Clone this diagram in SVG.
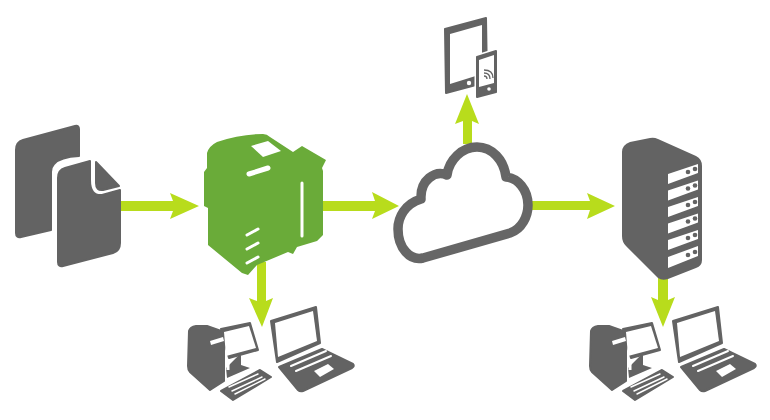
<svg xmlns="http://www.w3.org/2000/svg" xmlns:xlink="http://www.w3.org/1999/xlink" width="770" height="420" viewBox="0 0 770 420">
<style>
.g{fill:#636363;stroke:#636363;stroke-width:2;stroke-linejoin:round}
.w{fill:#fff}
.wl{fill:none;stroke:#fff;stroke-linecap:round}
.a{fill:#b8dc1c}
.d{fill:#636363}
</style>
<defs>
<g id="pc">
<path class="g" d="M189 331Q190 327 196 326L207 326L224 332L224 381L210 390L190 372Q188 370 188 366Z"/>
<path class="g" d="M221 329L250 323L258 350L229 358Z"/>
<path class="w" d="M224 332L249 326L256 348L226 356Z"/>
<path class="d" d="M238 356L241 355L241 365L250 368L227 378L226 368Z"/>
<path class="w" d="M210 341L223 337L224 341L211 345Z"/>
<rect class="w" x="226.500" y="362" width="3" height="8"/>
<path class="g" d="M221 391L260 370L271 377L233 400Z"/>
<path class="wl" stroke-width="1.500" d="M229 387L258 374M232 391L262 377M235 394L265 379"/>
</g>
<g id="laptop">
<path class="g" d="M271 321L316 307L320 343L277 362Z"/>
<path class="w" d="M275 323L313 311L317 341L278 357Z"/>
<path class="g" d="M279 367L322 349L353 364Q355 366 352 368L303 391Q300 392 298 390Z"/>
<path class="wl" stroke-width="2" d="M291 366L326 351M296 371L331 356"/>
<path class="w" d="M314 371L328 364L334 369L320 377Z"/>
</g>
</defs>
<rect width="770" height="420" fill="#fff"/>
<g id="connectors">
<path class="a" d="M120 201H173L170 193L199 206L170 219L173 211H120Z"/>
<path class="a" d="M323 201H375L372 192L399 206L372 219L375 211H323Z"/>
<path class="a" d="M463 144V121L455 124L467 94L479 124L472 121V144Z"/>
<path class="a" d="M532 201H590L587 193L615 206L587 219L590 210H532Z"/>
<path class="a" d="M257 262V301L249 298L262 327L273 298L266 301V262Z"/>
<path class="a" d="M658 278V300L651 297L663 327L675 297L668 300V278Z"/>
</g>
<g id="documents">
<path class="g" d="M16 150Q16 142 23 140L75 126Q79 125 79 129V156Q60 157 54 164Q51 167 51 172V230L21 237Q16 238 16 233Z"/>
<path class="g" d="M58 178Q58 170 65 168L90 161V180Q90 196 102 195L120 190V243Q120 251 113 253L63 266Q58 267 58 262Z"/>
<path class="g" d="M96 162L119 186L103 190Q96 191 96 183Z"/>
</g>
<g id="printer">
<path fill="#6aab39" d="M207 153Q209 146 217 142Q240 134 263 134Q267 134 270 137L293 152L302 146L326 160L322 168L323 171V235L317 241L297 247L293 254L288 252L257 265L248 275L242 273L208 245V208L204 206V172L207 168Z"/>
<path class="w" d="M251 146L268 141L281 151L263 157Z"/>
<path class="wl" stroke-width="5" d="M249 174L268 168"/>
<path class="wl" stroke-width="3" d="M302 183V236M247 235L258 229M247 249L258 243M247 263L258 257"/>
</g>
<g id="cloud">
<path fill="#fff" stroke="#666" stroke-width="9.500" stroke-linejoin="round" d="M423 258L510 233C522 229 528 216 528 205C528 190 518 178 506 177C504 160 492 147 477 147C462 147 449 160 447 175C435 170 420 180 421 199C405 204 398 217 398 229C398 248 410 261 423 258Z"/>
</g>
<g id="mobile-devices">
<path class="g" d="M445 29L486 18L487 82L446 93Z"/>
<path class="w" d="M450 34L482 25V74L450 84Z"/>
<circle class="w" cx="469" cy="83" r="2.200"/>
<path fill="#fff" stroke="#fff" stroke-width="5" stroke-linejoin="round" d="M477 57L496 51V92L477 97Z"/>
<path class="g" d="M477 57L496 51V92L477 97Z"/>
<path class="w" d="M479 60L494 55V83L479 87Z"/>
<circle class="w" cx="489" cy="89" r="1.800"/>
<path fill="none" stroke="#666" stroke-width="1.300" d="M484 73Q490 73 490 79M484 70Q493 70 493 78M484 76Q487 76 487 79"/>
</g>
<g id="server">
<path class="d" d="M622 152Q622 145 630 142L650 138Q654 137 658 139L696 156Q702 159 702 166V260Q702 266 696 268L668 279Q662 281 658 278L626 246Q622 242 622 236Z"/>
<g class="w">
<path d="M668 174L698 164V173L668 184Z"/>
<path d="M668 190.500L698 180.500V189.500L668 200.500Z"/>
<path d="M668 207L698 197V206L668 217Z"/>
<path d="M668 223.500L698 213.500V222.500L668 233.500Z"/>
<path d="M668 240L698 230V239L668 250Z"/>
<path d="M668 257L698 246V256L668 268Z"/>
</g>
<g class="d">
<circle cx="688" cy="172" r="2.300"/><circle cx="695" cy="169" r="2.300"/>
<circle cx="688" cy="188.500" r="2.300"/><circle cx="695" cy="185.500" r="2.300"/>
<circle cx="688" cy="205" r="2.300"/><circle cx="695" cy="202" r="2.300"/>
<circle cx="688" cy="221.500" r="2.300"/><circle cx="695" cy="218.500" r="2.300"/>
<circle cx="688" cy="238" r="2.300"/><circle cx="695" cy="235" r="2.300"/>
<circle cx="688" cy="255" r="2.300"/><circle cx="695" cy="252" r="2.300"/>
</g>
</g>
<g id="desktop-left"><use xlink:href="#pc" href="#pc"/></g>
<g id="laptop-left"><use xlink:href="#laptop" href="#laptop"/></g>
<g id="desktop-right"><use xlink:href="#pc" href="#pc" transform="translate(402,0)"/></g>
<g id="laptop-right"><use xlink:href="#laptop" href="#laptop" transform="translate(402,0)"/></g>
</svg>
